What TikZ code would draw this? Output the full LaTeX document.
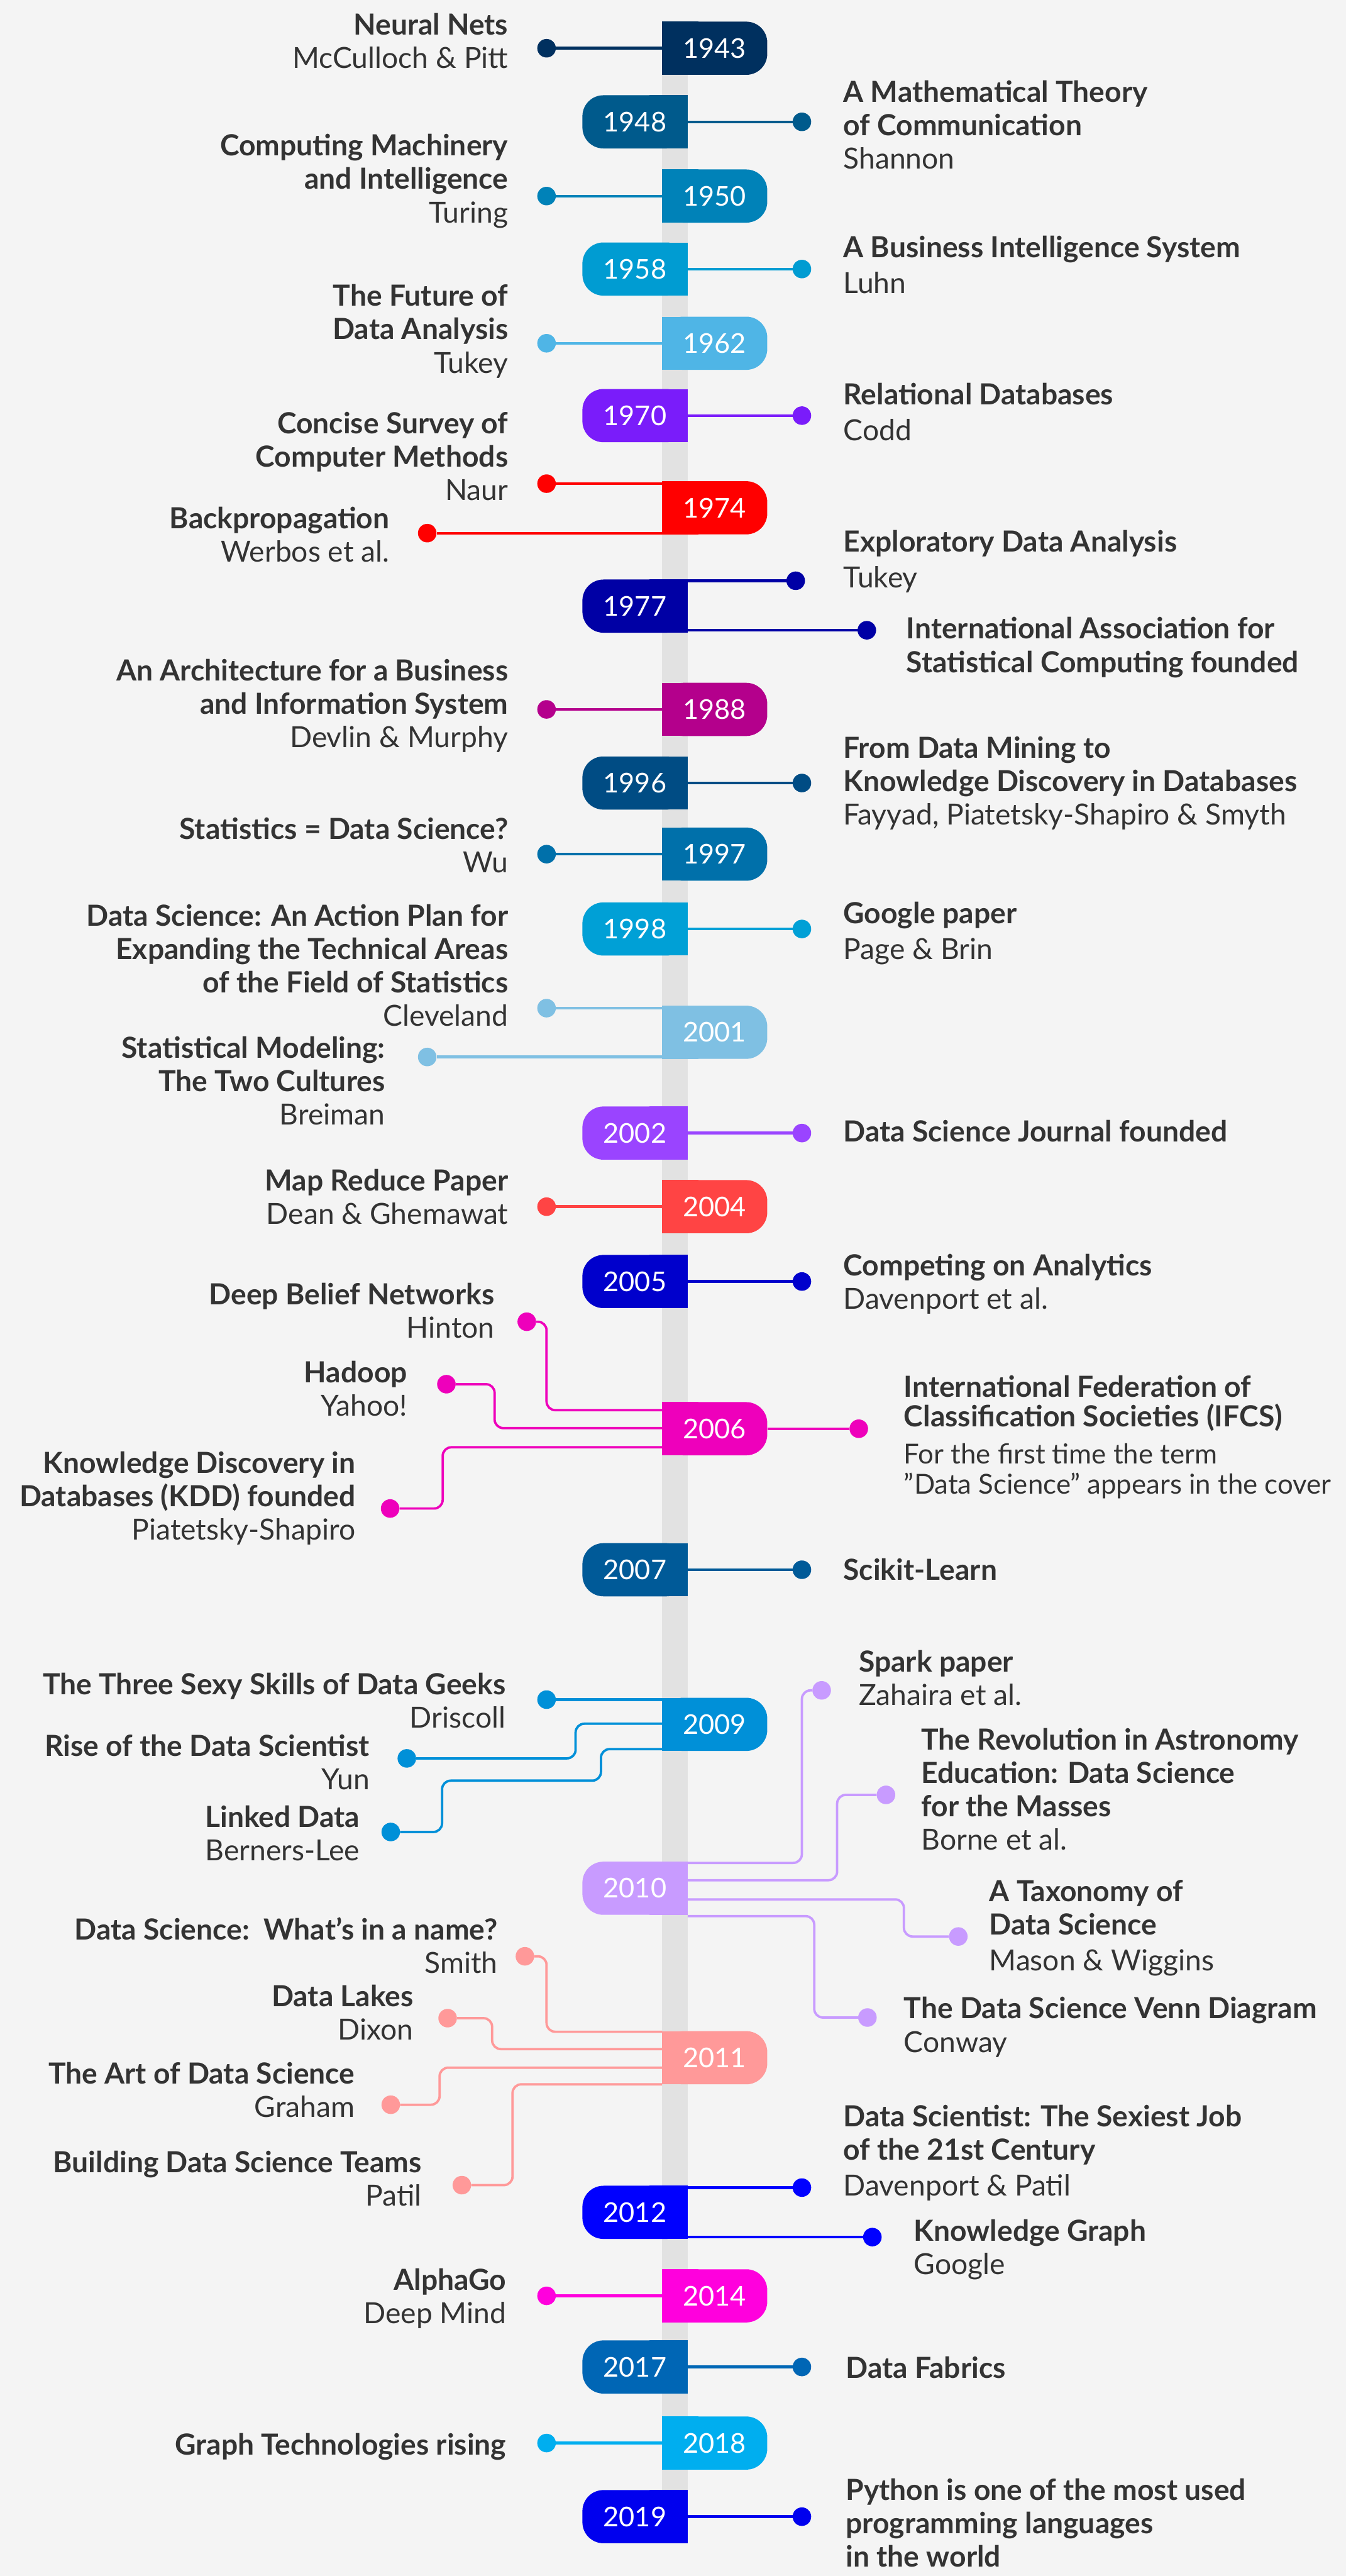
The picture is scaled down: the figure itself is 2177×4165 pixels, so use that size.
\documentclass[tikz,border=0pt]{standalone}
\usepackage{fontspec}
\setmainfont{Lato}
\definecolor{bg}{HTML}{F4F4F4}
\definecolor{barc}{HTML}{E2E2E2}
\definecolor{txt}{HTML}{333333}
\definecolor{c1943}{HTML}{00305F}
\definecolor{c1948}{HTML}{005A8C}
\definecolor{c1950}{HTML}{0082B8}
\definecolor{c1958}{HTML}{009CD2}
\definecolor{c1962}{HTML}{4FB5E6}
\definecolor{c1970}{HTML}{7A1CFA}
\definecolor{c1974}{HTML}{FF0000}
\definecolor{c1977}{HTML}{0000A5}
\definecolor{c1988}{HTML}{B4008C}
\definecolor{c1996}{HTML}{004C84}
\definecolor{c1997}{HTML}{0070AA}
\definecolor{c1998}{HTML}{00A0D6}
\definecolor{c2001}{HTML}{7FC0E3}
\definecolor{c2002}{HTML}{9A44FF}
\definecolor{c2004}{HTML}{FF4444}
\definecolor{c2005}{HTML}{0000CC}
\definecolor{c2006}{HTML}{EE00BB}
\definecolor{c2007}{HTML}{005A98}
\definecolor{c2009}{HTML}{0090D8}
\definecolor{c2010}{HTML}{C89BFF}
\definecolor{c2011}{HTML}{FF9999}
\definecolor{c2012}{HTML}{0000FF}
\definecolor{c2014}{HTML}{FF00DD}
\definecolor{c2017}{HTML}{0066B5}
\definecolor{c2018}{HTML}{00AEEF}
\definecolor{c2019}{HTML}{0000EE}
\newcommand\B[1]{\textbf{#1}}
\newcommand\yrR[3]{\fill[#3] (1071,#2-43) rectangle (1130,#2+43);
  \node[badge,fill=#3] (y#1) at (1156,#2) {#1};}
\newcommand\yrL[3]{\fill[#3] (1050,#2-43) rectangle (1112,#2+43);
  \node[badge,fill=#3] (y#1) at (1027,#2) {#1};}
\newcommand\dt[4]{\node[dotnode,fill=#4] (#1) at (#2,#3) {};}
\tikzset{
  badge/.style={rectangle,minimum width=170pt,minimum height=86pt,inner sep=0pt,
    rounded corners=34pt,text=white,font=\fontsize{44}{44}\selectfont},
  dotnode/.style={circle,minimum size=30pt,inner sep=0pt},
  ltxt/.style={anchor=base east,align=right,inner sep=0pt,text=txt,
    font=\fontsize{47}{54}\selectfont},
  rtxt/.style={anchor=base west,align=left,inner sep=0pt,text=txt,
    font=\fontsize{47}{54}\selectfont},
  conn/.style={line width=4.5pt},
  rconn/.style={line width=3.8pt,rounded corners=14pt},
}
\begin{document}
\begin{tikzpicture}[x=1pt,y=-1pt]
\fill[bg] (0,0) rectangle (2177,4165);
\useasboundingbox (0,0) rectangle (2177,4165);
\fill[barc] (1071,40) rectangle (1112,4110);
% badges
\yrR{1943}{78}{c1943}
\yrL{1948}{197}{c1948}
\yrR{1950}{317}{c1950}
\yrL{1958}{435}{c1958}
\yrR{1962}{555}{c1962}
\yrL{1970}{672}{c1970}
\yrR{1974}{821}{c1974}
\yrL{1977}{980}{c1977}
\yrR{1988}{1147}{c1988}
\yrL{1996}{1266}{c1996}
\yrR{1997}{1381}{c1997}
\yrL{1998}{1502}{c1998}
\yrR{2001}{1669}{c2001}
\yrL{2002}{1832}{c2002}
\yrR{2004}{1951}{c2004}
\yrL{2005}{2072}{c2005}
\yrR{2006}{2310}{c2006}
\yrL{2007}{2538}{c2007}
\yrR{2009}{2788}{c2009}
\yrL{2010}{3053}{c2010}
\yrR{2011}{3327}{c2011}
\yrL{2012}{3577}{c2012}
\yrR{2014}{3712}{c2014}
\yrL{2017}{3827}{c2017}
\yrR{2018}{3950}{c2018}
\yrL{2019}{4069}{c2019}
% dots
\dt{d1943}{884}{78}{c1943}
\dt{d1948}{1297}{197}{c1948}
\dt{d1950}{884}{317}{c1950}
\dt{d1958}{1297}{435}{c1958}
\dt{d1962}{884}{555}{c1962}
\dt{d1970}{1297}{672}{c1970}
\dt{dNaur}{884}{782}{c1974}
\dt{dWerbos}{691}{862}{c1974}
\dt{dEDA}{1287}{939}{c1977}
\dt{dIASC}{1402}{1019}{c1977}
\dt{d1988}{884}{1147}{c1988}
\dt{d1996}{1297}{1266}{c1996}
\dt{d1997}{884}{1381}{c1997}
\dt{d1998}{1297}{1502}{c1998}
\dt{dClev}{884}{1630}{c2001}
\dt{dBrei}{691}{1709}{c2001}
\dt{d2002}{1297}{1832}{c2002}
\dt{d2004}{884}{1951}{c2004}
\dt{d2005}{1297}{2072}{c2005}
\dt{dDBN}{852}{2137}{c2006}
\dt{dHad}{722}{2238}{c2006}
\dt{dKDD}{631}{2439}{c2006}
\dt{dIFCS}{1389}{2310}{c2006}
\dt{d2007}{1297}{2538}{c2007}
\dt{dSexy}{884}{2748}{c2009}
\dt{dRise}{658}{2843}{c2009}
\dt{dLink}{632}{2962}{c2009}
\dt{dSpark}{1329}{2733}{c2010}
\dt{dRev}{1433}{2902}{c2010}
\dt{dTax}{1550}{3131}{c2010}
\dt{dVenn}{1403}{3262}{c2010}
\dt{dSmith}{849}{3163}{c2011}
\dt{dDixon}{724}{3263}{c2011}
\dt{dGraham}{632}{3403}{c2011}
\dt{dPatil}{747}{3533}{c2011}
\dt{dDav}{1297}{3537}{c2012}
\dt{dKG}{1411}{3617}{c2012}
\dt{d2014}{884}{3712}{c2014}
\dt{d2017}{1297}{3827}{c2017}
\dt{d2018}{884}{3950}{c2018}
\dt{d2019}{1297}{4069}{c2019}
% texts left (anchored at the baseline of the last line)
\node[ltxt] (t1943) at (822,110) {\B{Neural Nets}\\McCulloch \& Pitt};
\node[ltxt] (t1950) at (822,360) {\B{Computing Machinery}\\\B{and Intelligence}\\Turing};
\node[ltxt] (t1962) at (822,603) {\B{The Future of}\\\B{Data Analysis}\\Tukey};
\node[ltxt] (tNaur) at (822,809) {\B{Concise Survey of}\\\B{Computer Methods}\\Naur};
\node[ltxt] (tWerbos) at (630,909) {\B{Backpropagation}\\Werbos et al.};
\node[ltxt] (t1988) at (822,1209) {\B{An Architecture for a Business}\\\B{and Information System}\\Devlin \& Murphy};
\node[ltxt] (t1997) at (822,1411) {\B{Statistics = Data Science?}\\Wu};
\node[ltxt] (tClev) at (822,1659) {\B{Data Science: An Action Plan for}\\\B{Expanding the Technical Areas}\\\B{of the Field of Statistics}\\Cleveland};
\node[ltxt] (tBrei) at (623,1819) {\B{Statistical Modeling:}\\\B{The Two Cultures}\\Breiman};
\node[ltxt] (t2004) at (822,1979) {\B{Map Reduce Paper}\\Dean \& Ghemawat};
\node[ltxt] (tDBN) at (800,2163) {\B{Deep Belief Networks}\\Hinton};
\node[ltxt] (tHad) at (659,2289) {\B{Hadoop}\\Yahoo!};
\node[ltxt] (tKDD) at (575,2490) {\B{Knowledge Discovery in}\\\B{Databases (KDD) founded}\\Piatetsky-Shapiro};
\node[ltxt] (tSexy) at (818,2794) {\B{The Three Sexy Skills of Data Geeks}\\Driscoll};
\node[ltxt] (tRise) at (598,2893) {\B{Rise of the Data Scientist}\\Yun};
\node[ltxt] (tLink) at (582,3008) {\B{Linked Data}\\Berners-Lee};
\node[ltxt] (tSmith) at (805,3190) {\B{Data Science:\ \ What's in a name?}\\Smith};
\node[ltxt] (tDixon) at (669,3298) {\B{Data Lakes}\\Dixon};
\node[ltxt] (tGraham) at (574,3423) {\B{The Art of Data Science}\\Graham};
\node[ltxt] (tPatil) at (682,3567) {\B{Building Data Science Teams}\\Patil};
\node[ltxt] (t2014) at (819,3757) {\B{AlphaGo}\\Deep Mind};
\node[ltxt] (t2018) at (819,3969) {\B{Graph Technologies rising}};
% texts right
\node[rtxt] (t1948) at (1364,273) {\B{A Mathematical Theory}\\\B{of Communication}\\Shannon};
\node[rtxt] (t1958) at (1364,474) {\B{A Business Intelligence System}\\[4pt]Luhn};
\node[rtxt] (t1970) at (1364,712) {\B{Relational Databases}\\[4pt]Codd};
\node[rtxt] (tEDA) at (1364,950) {\B{Exploratory Data Analysis}\\[4pt]Tukey};
\node[rtxt] (tIASC) at (1466,1087) {\B{International Association for}\\\B{Statistical Computing founded}};
\node[rtxt] (t1996) at (1364,1334) {\B{From Data Mining to}\\\B{Knowledge Discovery in Databases}\\Fayyad, Piatetsky-Shapiro \& Smyth};
\node[rtxt] (t1998) at (1364,1551) {\B{Google paper}\\[4pt]Page \& Brin};
\node[rtxt] (t2002) at (1364,1846) {\B{Data Science Journal founded}};
\node[rtxt] (t2005) at (1364,2117) {\B{Competing on Analytics}\\Davenport et al.};
\node[rtxt,font=\fontsize{47}{48}\selectfont] (tIFCS) at (1462,2415) {\B{International Federation of}\\\B{Classification Societies (IFCS)}\\[12pt]\fontsize{44.5}{48}\selectfont For the first time the term\\\fontsize{44.5}{48}\selectfont \symbol{34}Data Science\symbol{34} appears in the cover};
\node[rtxt] (t2007) at (1364,2555) {\B{Scikit-Learn}};
\node[rtxt] (tSpark) at (1389,2757) {\B{Spark paper}\\Zahaira et al.};
\node[rtxt] (tRev) at (1490,2991) {\B{The Revolution in Astronomy}\\\B{Education: Data Science}\\\B{for the Masses}\\Borne et al.};
\node[rtxt] (tTax) at (1600,3186) {\B{A Taxonomy of}\\\B{Data Science}\\[4pt]Mason \& Wiggins};
\node[rtxt] (tVenn) at (1462,3318) {\B{The Data Science Venn Diagram}\\Conway};
\node[rtxt] (tDav) at (1364,3550) {\B{Data Scientist: The Sexiest Job}\\\B{of the 21st Century}\\[4pt]Davenport \& Patil};
\node[rtxt] (tKG) at (1478,3677) {\B{Knowledge Graph}\\Google};
\node[rtxt] (t2017) at (1368,3845) {\B{Data Fabrics}};
\node[rtxt] (t2019) at (1368,4150) {\B{Python is one of the most used}\\\B{programming languages}\\\B{in the world}};
% straight connectors
\draw[conn,c1943] (d1943) -- (y1943.west |- d1943);
\draw[conn,c1948] (y1948.east |- d1948) -- (d1948);
\draw[conn,c1950] (d1950) -- (y1950.west |- d1950);
\draw[conn,c1958] (y1958.east |- d1958) -- (d1958);
\draw[conn,c1962] (d1962) -- (y1962.west |- d1962);
\draw[conn,c1970] (y1970.east |- d1970) -- (d1970);
\draw[conn,c1974] (dNaur) -- (y1974.west |- dNaur);
\draw[conn,c1974] (dWerbos) -- (y1974.west |- dWerbos);
\draw[conn,c1977] (y1977.east |- dEDA) -- (dEDA);
\draw[conn,c1977] (y1977.east |- dIASC) -- (dIASC);
\draw[conn,c1988] (d1988) -- (y1988.west |- d1988);
\draw[conn,c1996] (y1996.east |- d1996) -- (d1996);
\draw[conn,c1997] (d1997) -- (y1997.west |- d1997);
\draw[conn,c1998] (y1998.east |- d1998) -- (d1998);
\draw[conn,c2001] (dClev) -- (y2001.west |- dClev);
\draw[conn,c2001] (dBrei) -- (y2001.west |- dBrei);
\draw[conn,c2002] (y2002.east |- d2002) -- (d2002);
\draw[conn,c2004] (d2004) -- (y2004.west |- d2004);
\draw[conn,c2005] (y2005.east |- d2005) -- (d2005);
\draw[conn,c2006] (y2006.east |- dIFCS) -- (dIFCS);
\draw[conn,c2007] (y2007.east |- d2007) -- (d2007);
\draw[conn,c2009] (dSexy) -- (y2009.west |- dSexy);
\draw[conn,c2012] (y2012.east |- dDav) -- (dDav);
\draw[conn,c2012] (y2012.east |- dKG) -- (dKG);
\draw[conn,c2014] (d2014) -- (y2014.west |- d2014);
\draw[conn,c2017] (y2017.east |- d2017) -- (d2017);
\draw[conn,c2018] (d2018) -- (y2018.west |- d2018);
\draw[conn,c2019] (y2019.east |- d2019) -- (d2019);
% routed connectors
\draw[rconn,c2006] (dDBN) -| (884,2280) -- (y2006.west |- 0,2280);
\draw[rconn,c2006] (dHad) -| (800,2309) -- (y2006.west |- 0,2309);
\draw[rconn,c2006] (dKDD) -| (716,2340) -- (y2006.west |- 0,2340);
\draw[rconn,c2009] (dRise) -| (931,2787) -- (y2009.west |- 0,2787);
\draw[rconn,c2009] (dLink) -| (715,2879) -| (972,2828) -- (y2009.west |- 0,2828);
\draw[rconn,c2010] (y2010.east |- 0,3012) -| (1297,2733) -- (dSpark);
\draw[rconn,c2010] (y2010.east |- 0,3040) -| (1354,2902) -- (dRev);
\draw[rconn,c2010] (y2010.east |- 0,3071) -| (1462,3131) -- (dTax);
\draw[rconn,c2010] (y2010.east |- 0,3098) -| (1317,3262) -- (dVenn);
\draw[rconn,c2011] (dSmith) -| (884,3285) -- (y2011.west |- 0,3285);
\draw[rconn,c2011] (dDixon) -| (796,3313) -- (y2011.west |- 0,3313);
\draw[rconn,c2011] (dGraham) -| (711,3343) -- (y2011.west |- 0,3343);
\draw[rconn,c2011] (dPatil) -| (829,3370) -- (y2011.west |- 0,3370);
\end{tikzpicture}
\end{document}
